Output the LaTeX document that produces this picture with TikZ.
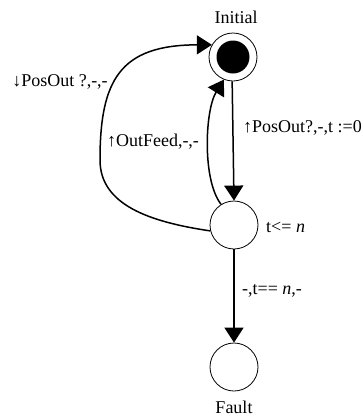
\documentclass[tikz,border=0pt]{standalone}
\usepackage{fontspec}
\setmainfont{Liberation Serif}
\usetikzlibrary{arrows.meta}
\begin{document}
\begin{tikzpicture}[x=1pt,y=-1pt,
  state/.style={circle, draw, line width=0.8pt, minimum size=48pt, inner sep=0pt},
  dot/.style={circle, fill, minimum size=33pt, inner sep=0pt},
  arr/.style={-{Triangle[length=15pt,width=19pt]}, line width=1.5pt},
  lbl/.style={font=\fontsize{18}{20}\selectfont, inner sep=0pt}]
\useasboundingbox (0,0) rectangle (361,416);
\node[state] (init) at (233,57) {};
\node[dot] (initdot) at (init.center) {};
\node[state] (mid) at (234,225) {};
\node[state] (fault) at (234,367) {};
\node[lbl] (tinit) at (236,17) {Initial};
\node[lbl] (tfault) at (234,407) {Fault};
\draw[arr] (init.268) -- (mid.90);
\draw[arr] (mid) -- (fault);
\draw[arr] (mid.194) .. controls (150,222) and (100,205) .. (100,160)
  .. controls (100,80) and (120,45) .. (init.150);
\draw[arr] (mid.122) .. controls (202,180) and (205,110) .. (init.248);
\node[lbl] (l1) at (60,82) {↓PosOut ?,-,-};
\node[lbl] (l2) at (153,142) {↑OutFeed,-,-};
\node[lbl, anchor=west] (l3) at (243,128) {↑PosOut?,-,t :=0};
\node[lbl, anchor=west] (l4) at (266,227) {t<= \textit{n}};
\node[lbl, anchor=west] (l5) at (242,291) {-,t== \textit{n},-};
\end{tikzpicture}
\end{document}
